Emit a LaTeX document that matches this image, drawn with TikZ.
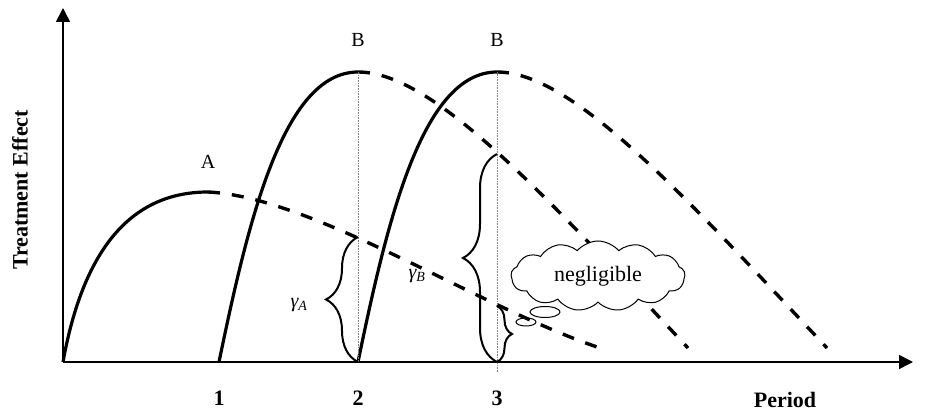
\documentclass[tikz,border=0pt]{standalone}
\usepackage{fontspec}
\setmainfont{Liberation Serif}
\usetikzlibrary{arrows.meta, positioning, decorations.pathreplacing, shapes.symbols, shapes.geometric}

\begin{document}
\begin{tikzpicture}[
  x=1pt, y=1pt,
  axis/.style = {line width=1.6pt, -{Triangle[length=14pt, width=14pt]}},
  rise/.style = {line width=3.2pt},
  fade/.style = {line width=3.4pt, dash pattern=on 12pt off 12pt},
  guide/.style = {line width=0.6pt, densely dotted, gray},
  gap/.style = {line width=2pt, decorate, decoration={brace, amplitude=#1}},
  axlbl/.style = {font=\bfseries\fontsize{22}{24}\selectfont},
  curvelbl/.style = {font=\fontsize{20}{22}\selectfont},
  gamlbl/.style = {font=\itshape\fontsize{20}{22}\selectfont},
  puff/.style = {ellipse, draw, line width=1pt, inner sep=0pt}
]
  \useasboundingbox (-63,-52) rectangle (864,362);

  % axes
  \coordinate (O) at (0,0);
  \coordinate (xend) at (850,0);
  \coordinate (yend) at (0,354);
  \draw[axis] (O) -- (xend);
  \draw[axis] (O) -- (yend);
  \node[axlbl, rotate=90] (ylbl) at (-43,172) {Treatment Effect};
  \node[axlbl] (xlbl) at (722,-38) {Period};

  % periods
  \foreach \x/\k in {156/1, 295/2, 434/3}{
    \coordinate (tick\k) at (\x,0);
    \node[axlbl, below=25pt of tick\k] (num\k) {\k};
  }

  % treatment A
  \coordinate (Apeak) at (145,170);
  \coordinate (Aend) at (537,14);
  \draw[rise] (O) .. controls (18,100) and (60,170) .. (Apeak);
  \draw[fade] (Apeak) .. controls (250,165) and (415,55) .. (Aend);
  \node[curvelbl, above=20pt of Apeak] (labA) {A};

  % treatment B, given in period 1 and in period 2
  \foreach \s/\k in {156/1, 295/2}{
    \begin{scope}[shift={(\s,0)}]
      \coordinate (B\k peak) at (139,290);
      \coordinate (B\k end) at (469,14);
      \draw[rise] (0,0) .. controls (29,140) and (64,290) .. (B\k peak);
      \draw[fade] (B\k peak) .. controls (214,290) and (324,169) .. (B\k end);
    \end{scope}
    \node[curvelbl, above=22pt of B\k peak] (labB\k) {B};
  }

  % carry-over
  \draw[guide] (tick2) -- (B1peak);
  \draw[guide] ([yshift=-10pt]tick3) -- (B2peak);
  \coordinate (gAtop) at (295,125);
  \coordinate (gBtop) at (434,208);
  \coordinate (gCtop) at (434,56);
  \draw[gap=32pt] (tick2) -- (gAtop);
  \draw[gap=34pt] (tick3) -- (gBtop);
  \draw[gap=15pt] (gCtop) -- (tick3);
  \node[gamlbl] (gA) at (236,57) {γ\textsubscript{A}};
  \node[gamlbl] (gB) at (354,86) {γ\textsubscript{B}};

  % thought cloud
  \node[cloud, draw, fill=white, line width=1pt, cloud puffs=13, cloud puff arc=100, aspect=2.5,
        minimum width=174pt, minimum height=70pt, inner sep=0pt,
        font=\fontsize{22}{24}\selectfont] (negl) at (535,86) {negligible};
  \node[puff, minimum width=30pt, minimum height=11pt] (puff1) at (482,50) {};
  \node[puff, minimum width=20pt, minimum height=8pt] (puff2) at (463,40) {};
\end{tikzpicture}
\end{document}
